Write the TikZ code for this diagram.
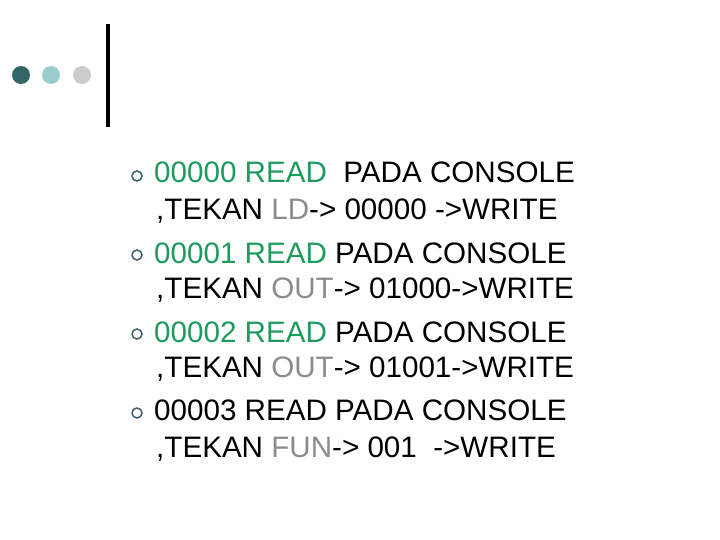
\documentclass[tikz,border=0pt]{standalone}
\usepackage{fontspec}
\setmainfont{Liberation Sans}
\usepackage{tikz}
\usetikzlibrary{positioning}
\definecolor{darkteal}{HTML}{336666}
\definecolor{lightteal}{HTML}{99CCCC}
\definecolor{lightgrey}{HTML}{CCCCCC}
\definecolor{readgreen}{HTML}{1E9A5C}
\definecolor{keygrey}{HTML}{8C8C8C}
\definecolor{bulletcol}{HTML}{3E6068}
\newcommand{\rd}[1]{\textcolor{readgreen}{#1}}
\newcommand{\ky}[1]{\textcolor{keygrey}{#1}}

\begin{document}
\begin{tikzpicture}[x=1pt,y=-1pt,
  dotnode/.style={circle,inner sep=0pt,minimum size=18pt},
  bulletnode/.style={circle,draw=bulletcol,line width=1.5pt,inner sep=0pt,minimum size=10pt},
  linenode/.style={anchor=base west,inner sep=0pt,font=\fontsize{29.6}{30}\selectfont}]
\useasboundingbox (0,0) rectangle (720,540);

\node [dotnode,fill=darkteal] (d1) at (21,75) {};
\node [dotnode,fill=lightteal] (d2) at (51,75) {};
\node [dotnode,fill=lightgrey] (d3) at (82,75) {};
\draw [line width=4pt] (108,24) -- (108,127);

\node [bulletnode] (b1) at (137,176) {};
\node [bulletnode] (b2) at (137,255) {};
\node [bulletnode] (b3) at (137,334) {};
\node [bulletnode] (b4) at (137,413) {};

\node [linenode] (l1) at (154,183) {\rd{00000 READ}\ \ PADA CONSOLE};
\node [linenode] (l2) at (156,220) {,TEKAN \ky{LD}-> 00000 ->WRITE};
\node [linenode] (l3) at (154,263) {\rd{00001 READ} PADA CONSOLE};
\node [linenode] (l4) at (156,298) {,TEKAN \ky{OUT}-> 01000->WRITE};
\node [linenode] (l5) at (154,342) {\rd{00002 READ} PADA CONSOLE};
\node [linenode] (l6) at (156,377) {,TEKAN \ky{OUT}-> 01001->WRITE};
\node [linenode] (l7) at (154,420) {00003 READ PADA CONSOLE};
\node [linenode] (l8) at (156,457) {,TEKAN \ky{FUN}-> 001\ \ ->WRITE};
\end{tikzpicture}
\end{document}
